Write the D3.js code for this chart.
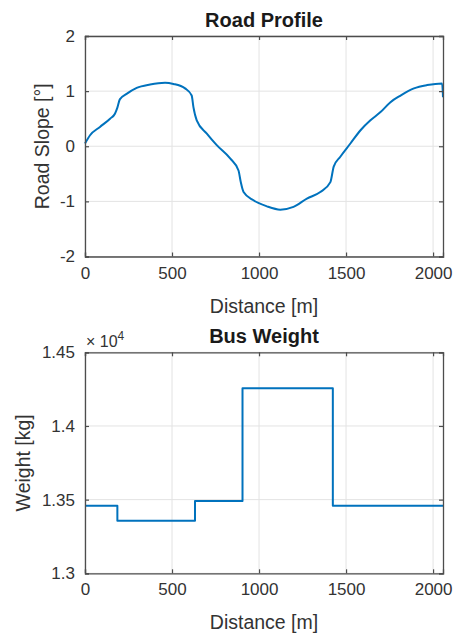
<!DOCTYPE html>
<html>
<head>
<meta charset="utf-8">
<script src="https://cdn.jsdelivr.net/npm/d3@7"></script>
<style>
  html, body { margin: 0; padding: 0; background: #fff; }
  svg { display: block; }
  text { font-family: "Liberation Sans", Arial, sans-serif; }
</style>
</head>
<body>
<svg id="chart" width="454" height="635"></svg>
<script>
// ---------- data ----------
const distance = [0, 29, 86, 144, 172, 186, 200, 239, 297, 374, 460, 508, 575, 613, 623, 642, 700, 757, 834, 882, 895, 911, 968, 1045, 1122, 1198, 1275, 1352, 1410, 1429, 1467, 1525, 1583, 1640, 1698, 1755, 1813, 1890, 1966, 2052, 2057];
const slope    = [0.05, 0.2, 0.35, 0.5, 0.59, 0.7, 0.85, 0.95, 1.06, 1.12, 1.15, 1.13, 1.05, 0.92, 0.71, 0.47, 0.23, 0.02, -0.22, -0.44, -0.65, -0.83, -0.98, -1.09, -1.15, -1.10, -0.95, -0.83, -0.65, -0.37, -0.19, 0.05, 0.29, 0.47, 0.62, 0.80, 0.92, 1.05, 1.11, 1.14, 0.89];

const weightDistance = [0, 186, 632, 905, 1424, 2057];
const weightValues   = [13459, 13357, 13491, 14256, 13459, 13459];

const xTicks = [0, 500, 1000, 1500, 2000];
const slopeTicks = [-2, -1, 0, 1, 2];
const weightTicks = [13000, 13500, 14000, 14500];
const weightTickLabels = ["1.3", "1.35", "1.4", "1.45"];

const titles = ["Road Profile", "Bus Weight"];
const xLabel = "Distance [m]";
const yLabels = ["Road Slope [°]", "Weight [kg]"];

// ---------- layout ----------
const svg = d3.select("#chart");
const left = 85, right = 443;
const lineColor = "#0072BD";
const axisColor = "#4d4d4d";
const textColor = "#333333";
const gridColor = "#e3e3e3";

function panel(opts) {
  const { top, bottom, yDomain, yTicks, yTickFmt, title, yLabel, xs, ys, curve } = opts;
  const x = d3.scaleLinear().domain([0, 2057]).range([left, right]);
  const y = d3.scaleLinear().domain(yDomain).range([bottom, top]);
  const g = svg.append("g");

  // grid
  g.append("g").selectAll("line.gx").data(xTicks).join("line")
    .attr("x1", d => x(d)).attr("x2", d => x(d))
    .attr("y1", top).attr("y2", bottom)
    .attr("stroke", gridColor).attr("stroke-width", 1);
  g.append("g").selectAll("line.gy").data(yTicks).join("line")
    .attr("x1", left).attr("x2", right)
    .attr("y1", d => y(d)).attr("y2", d => y(d))
    .attr("stroke", gridColor).attr("stroke-width", 1);

  // data line
  const line = d3.line().x(d => x(d[0])).y(d => y(d[1])).curve(curve);
  g.append("path")
    .datum(xs.map((d, i) => [d, ys[i]]))
    .attr("d", line)
    .attr("fill", "none")
    .attr("stroke", lineColor)
    .attr("stroke-width", 2)
    .attr("stroke-linejoin", "round");

  // axes (box with inward ticks on all sides)
  const bottomAxis = d3.axisBottom(x).tickValues(xTicks).tickSize(-4).tickPadding(10).tickFormat(d => String(d));
  const topAxis = d3.axisTop(x).tickValues(xTicks).tickSize(-4).tickFormat("");
  const leftAxis = d3.axisLeft(y).tickValues(yTicks).tickSize(-4).tickPadding(10).tickFormat(yTickFmt);
  const rightAxis = d3.axisRight(y).tickValues(yTicks).tickSize(-4).tickFormat("");

  const gb = g.append("g").attr("transform", `translate(0,${bottom})`).call(bottomAxis);
  const gt = g.append("g").attr("transform", `translate(0,${top})`).call(topAxis);
  const gl = g.append("g").attr("transform", `translate(${left},0)`).call(leftAxis);
  const gr = g.append("g").attr("transform", `translate(${right},0)`).call(rightAxis);
  [gb, gt, gl, gr].forEach(a => {
    a.select(".domain").attr("stroke", axisColor).attr("stroke-width", 1.3);
    a.selectAll(".tick line").attr("stroke", axisColor).attr("stroke-width", 1.2);
    a.selectAll(".tick text").attr("fill", textColor).style("font-size", "17px")
      .style("font-family", "'Liberation Sans', Arial, sans-serif");
  });
  gb.selectAll(".tick text").attr("dy", "0.71em");

  // title
  g.append("text").attr("x", (left + right) / 2).attr("y", top - 9)
    .attr("text-anchor", "middle").attr("fill", "#1a1a1a")
    .style("font-size", "20px").style("font-weight", "bold").text(title);
  // x label
  g.append("text").attr("x", (left + right) / 2).attr("y", bottom + 56)
    .attr("text-anchor", "middle").attr("fill", textColor)
    .style("font-size", "19.5px").text(xLabel);
  // y label
  g.append("text")
    .attr("transform", `translate(${opts.yLabelX},${(top + bottom) / 2}) rotate(-90)`)
    .attr("text-anchor", "middle").attr("fill", textColor)
    .style("font-size", "19.5px").text(yLabel);
  return g;
}

panel({
  top: 36, bottom: 256.5, yDomain: [-2, 2], yTicks: slopeTicks,
  yTickFmt: d => String(d), title: titles[0], yLabel: yLabels[0],
  xs: distance, ys: slope, curve: d3.curveMonotoneX, yLabelX: 49
});

const g2 = panel({
  top: 352.3, bottom: 573.3, yDomain: [13000, 14500], yTicks: weightTicks,
  yTickFmt: (d, i) => weightTickLabels[i], title: titles[1], yLabel: yLabels[1],
  xs: weightDistance, ys: weightValues, curve: d3.curveStepAfter, yLabelX: 30
});

// exponent label
const ex = g2.append("text").attr("x", 86).attr("y", 347).attr("fill", textColor)
  .style("font-size", "16px");
ex.append("tspan").text("× 10");
ex.append("tspan").attr("dy", -7).style("font-size", "12px").text("4");
</script>
</body>
</html>
